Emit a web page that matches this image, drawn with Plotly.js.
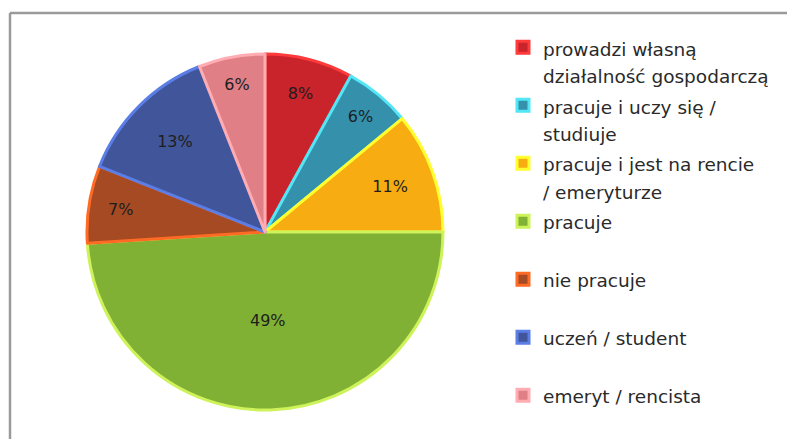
<!DOCTYPE html>
<html>
<head>
<meta charset="utf-8">
<script src="https://cdn.plot.ly/plotly-3.0.1.min.js"></script>
<style>
  html, body { margin: 0; padding: 0; background: #ffffff; }
  #chart { width: 787px; height: 439px; }
</style>
</head>
<body>
<div id="chart"></div>
<script>
// ---- data ----
const categories = [
  'prowadzi własną<br>działalność gospodarczą',
  'pracuje i uczy się /<br>studiuje',
  'pracuje i jest na rencie<br>/ emeryturze',
  'pracuje',
  'nie pracuje',
  'uczeń / student',
  'emeryt / rencista'
];
const values = [8, 6, 11, 49, 7, 13, 6];

// ---- styles ----
const fillColors   = ['#c9232b', '#3490ab', '#f7ad12', '#80b034', '#a54a22', '#40559a', '#e07f85'];
const borderColors = ['#ff3a3a', '#52e6f6', '#ffff30', '#cdf25a', '#ff6a24', '#5b7de6', '#ffacb2'];

const W = 787, H = 439;
const LEGEND_GLYPH = 18.5;  // glyph size of legend text
const LEGEND_BASE = 21.15;  // base size -> row pitch of 58px for 2-line rows

// legend labels: every entry (except the last) padded to 2 lines, glyphs sized via span
const legendLabels = categories.map((c, i) => {
  const lines = c.split('<br>').map(s => '<span style="font-size:' + LEGEND_GLYPH + 'px">' + s + '</span>');
  if (i < categories.length - 1) while (lines.length < 2) lines.push(' ');
  return lines.join('<br>');
});

const cx = 265, cy = 232, r = 178;

const data = [{
  type: 'pie',
  labels: legendLabels,
  values: values,
  sort: false,
  direction: 'clockwise',
  rotation: 0,
  marker: { colors: fillColors, line: { color: borderColors, width: 3 } },
  textinfo: 'percent',
  textposition: 'inside',
  insidetextorientation: 'horizontal',
  insidetextfont: { family: 'DejaVu Sans, Verdana, sans-serif', size: 16, color: '#1e1e1e' },
  hoverinfo: 'none',
  domain: { x: [(cx - r) / W, (cx + r) / W], y: [1 - (cy + r) / H, 1 - (cy - r) / H] }
}];

const layout = {
  width: W, height: H,
  margin: { l: 0, r: 0, t: 0, b: 0 },
  paper_bgcolor: '#ffffff',
  plot_bgcolor: '#ffffff',
  showlegend: true,
  legend: {
    x: 503 / W, xanchor: 'left',
    y: 1 - 27 / H, yanchor: 'top',
    valign: 'top',
    font: { family: 'DejaVu Sans, Verdana, sans-serif', size: LEGEND_BASE, color: '#2a2a2a' },
    bgcolor: 'rgba(0,0,0,0)',
    borderwidth: 0
  },
  shapes: [
    { type: 'line', xref: 'paper', yref: 'paper', x0: 10 / W, x1: 1, y0: 1 - 13 / H, y1: 1 - 13 / H,
      line: { color: '#9a9a9a', width: 2.5 } },
    { type: 'line', xref: 'paper', yref: 'paper', x0: 10 / W, x1: 10 / W, y0: 0, y1: 1 - 13 / H,
      line: { color: '#9a9a9a', width: 2.5 } }
  ]
};

Plotly.newPlot('chart', data, layout, { displayModeBar: false, staticPlot: true });
</script>
</body>
</html>
